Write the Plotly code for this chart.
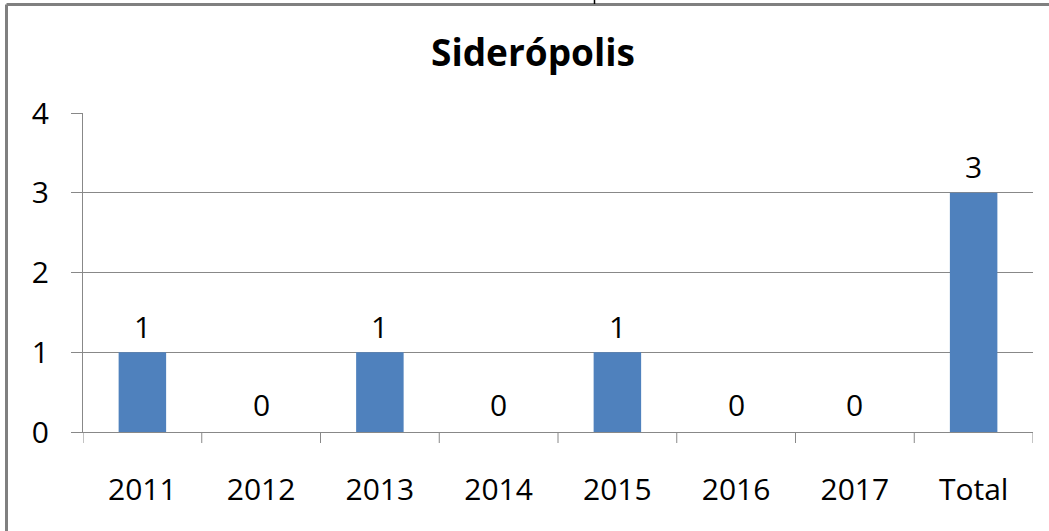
import plotly.graph_objects as go

categories = ["2011", "2012", "2013", "2014", "2015", "2016", "2017", "Total"]
values = [1, 0, 1, 0, 1, 0, 0, 3]
y_ticks = [0, 1, 2, 3, 4]
title_text = "Sider\u00f3polis"

FONT = "Open Sans"
W, H = 1049, 531
L, R, T, B = 83, 16, 113, 99
pw, ph = W - L - R, H - T - B

def px_to_paper_x(px):
    return (px - L) / pw

def px_to_paper_y(py):
    return (H - B - py) / ph

fig = go.Figure()
fig.add_trace(go.Bar(
    x=list(range(len(categories))), y=values,
    marker=dict(color="#4F81BD", line=dict(width=0)),
    width=0.4, showlegend=False, hoverinfo="y",
))

for i, v in enumerate(values):
    fig.add_annotation(x=i, y=v, xref="x", yref="y", text=str(v), showarrow=False,
                       yanchor="middle", yshift=28 if v == 0 else 26,
                       font=dict(family=FONT, size=30, color="#000000"))

# outer chart border (top and left visible, rest cropped)
border = dict(color="#808080", width=3)
fig.add_shape(type="line", xref="paper", yref="paper",
              x0=px_to_paper_x(6.5), x1=px_to_paper_x(1060),
              y0=px_to_paper_y(4.5), y1=px_to_paper_y(4.5), line=border)
fig.add_shape(type="line", xref="paper", yref="paper",
              x0=px_to_paper_x(6.5), x1=px_to_paper_x(6.5),
              y0=px_to_paper_y(4.5), y1=px_to_paper_y(540), line=border)
# fragment of cut-off text above the border
fig.add_shape(type="line", xref="paper", yref="paper",
              x0=px_to_paper_x(594.5), x1=px_to_paper_x(594.5),
              y0=px_to_paper_y(-1), y1=px_to_paper_y(4), line=dict(color="#000000", width=1.5))

fig.update_layout(
    width=W, height=H,
    margin=dict(l=L, r=R, t=T, b=B),
    paper_bgcolor="#FFFFFF", plot_bgcolor="#FFFFFF",
    font=dict(family=FONT, color="#000000"),
    title=dict(text="<b>" + title_text + "</b>", x=533 / W, xanchor="center",
               y=1 - 53 / H, yanchor="middle", yref="container",
               font=dict(family=FONT, size=37, color="#000000")),
    bargap=0.6,
)
fig.update_xaxes(
    range=[-0.5, 7.5], tickvals=list(range(len(categories))), ticktext=categories,
    showline=True, linecolor="#888888", linewidth=1,
    ticks="", showgrid=False, zeroline=False,
    tickfont=dict(family=FONT, size=30, color="#000000"),
    ticklabelstandoff=31,
)
# category boundary ticks below the x axis
for k in range(len(categories) + 1):
    fig.add_shape(type="line", xref="x", yref="paper",
                  x0=k - 0.5, x1=k - 0.5, y0=0, y1=-11 / ph,
                  line=dict(color="#888888", width=1))
fig.update_yaxes(
    range=[0, 4], tickvals=y_ticks,
    showline=True, linecolor="#888888", linewidth=1,
    ticks="outside", ticklen=11, tickcolor="#888888", tickwidth=1,
    tickfont=dict(family=FONT, size=30, color="#000000"),
    ticklabelstandoff=16,
    showgrid=True, gridcolor="#888888", gridwidth=1, zeroline=False,
)

fig.write_html("out.html", post_script="document.body.style.margin='0';",
               config={"displayModeBar": False})
